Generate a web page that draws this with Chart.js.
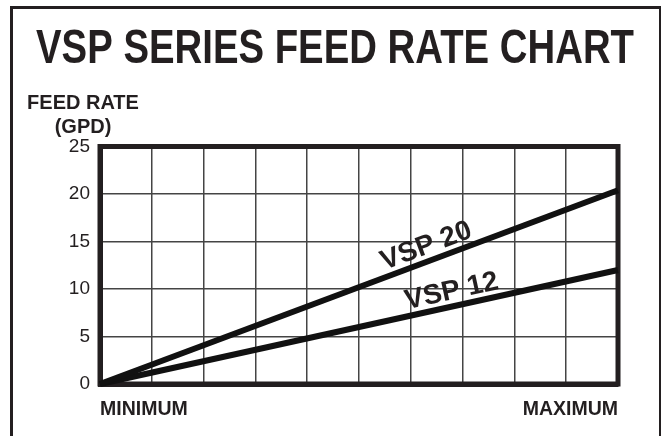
<!DOCTYPE html>
<html>
<head>
<meta charset="utf-8">
<script src="https://cdn.jsdelivr.net/npm/chart.js@4"></script>
<style>
  html, body { margin: 0; padding: 0; background: #fff; }
  #wrap { position: relative; width: 661px; height: 436px; overflow: hidden; }
  #frame { position: absolute; left: 10px; top: 6px; width: 646px; height: 460px; border: 3px solid #231f20; border-bottom: none; }
  canvas { position: absolute; left: 0; top: 0; }
</style>
</head>
<body>
<div id="wrap">
  <div id="frame"></div>
  <canvas id="c" width="661" height="436"></canvas>
</div>
<script>
// ---- data ----
const xValues = [0, 10];
const vsp20 = [0, 20.4];
const vsp12 = [0, 12.0];
const seriesNames = ['VSP 20', 'VSP 12'];
const labelAtX = [6.4, 6.85];
const yTicks = [0, 5, 10, 15, 20, 25];
const xEndLabels = ['MINIMUM', 'MAXIMUM'];
const chartTitle = 'VSP SERIES FEED RATE CHART';
const yTitle = ['FEED RATE', '(GPD)'];

const INK = '#231f20';
const FONT = "'Liberation Sans', Arial, Helvetica, sans-serif";

const decor = {
  id: 'decor',
  beforeDatasetsDraw(chart) {
    const { ctx, chartArea: a } = chart;
    ctx.save();
    ctx.strokeStyle = INK;
    ctx.lineWidth = 5;
    ctx.strokeRect(a.left, a.top, a.right - a.left, a.bottom - a.top);
    ctx.restore();
  },
  afterDraw(chart) {
    const { ctx, chartArea: a, scales } = chart;
    ctx.save();
    ctx.fillStyle = INK;
    // condensed-looking title, centred over the page
    ctx.font = 'bold 49px ' + FONT;
    ctx.textAlign = 'center';
    ctx.textBaseline = 'alphabetic';
    const tw = ctx.measureText(chartTitle).width;
    ctx.save();
    ctx.translate(335, 63);
    ctx.scale(598 / tw, 1);
    ctx.fillText(chartTitle, 0, 0);
    ctx.restore();

    ctx.textAlign = 'center';
    ctx.textBaseline = 'middle';
    ctx.font = 'bold 20px ' + FONT;
    ctx.fillText(yTitle[0], a.left - 17, a.top - 43);
    ctx.fillText(yTitle[1], a.left - 17, a.top - 19);
    const sets = [vsp20, vsp12];
    sets.forEach((vals, i) => {
      const xs = scales.x, ys = scales.y;
      const x0 = xs.getPixelForValue(xValues[0]), y0 = ys.getPixelForValue(vals[0]);
      const x1 = xs.getPixelForValue(xValues[1]), y1 = ys.getPixelForValue(vals[1]);
      const ang = Math.atan2(y1 - y0, x1 - x0);
      const lx = labelAtX[i];
      const ly = vals[0] + (vals[1] - vals[0]) * (lx - xValues[0]) / (xValues[1] - xValues[0]);
      const px = xs.getPixelForValue(lx), py = ys.getPixelForValue(ly);
      ctx.save();
      ctx.translate(px, py);
      ctx.rotate(ang);
      ctx.font = 'bold 28px ' + FONT;
      ctx.textAlign = 'center';
      ctx.textBaseline = 'alphabetic';
      ctx.fillText(seriesNames[i], 0, -7);
      ctx.restore();
    });
    ctx.restore();
  }
};

new Chart(document.getElementById('c'), {
  type: 'line',
  data: {
    datasets: [
      { label: seriesNames[0], data: xValues.map((x, i) => ({ x, y: vsp20[i] })) },
      { label: seriesNames[1], data: xValues.map((x, i) => ({ x, y: vsp12[i] })) }
    ]
  },
  options: {
    responsive: false,
    animation: false,
    events: [],
    layout: { padding: { left: 52, right: 43, top: 146.5, bottom: 0 } },
    elements: {
      line: { borderColor: '#111', borderWidth: 6, borderCapStyle: 'butt', tension: 0 },
      point: { radius: 0 }
    },
    datasets: { line: { clip: false } },
    plugins: {
      legend: { display: false },
      tooltip: { enabled: false },
      title: { display: false }
    },
    scales: {
      x: {
        type: 'linear',
        min: 0, max: 10,
        afterFit(s) { s.height = 52; },
        grid: { color: '#444', lineWidth: 1.5, drawTicks: false },
        border: { display: true, color: INK, width: 5 },
        ticks: {
          stepSize: 1,
          autoSkip: false,
          maxRotation: 0,
          align: 'inner',
          padding: 14,
          color: INK,
          font: { family: FONT, size: 19.5, weight: 'bold' },
          callback: (v) => v === 0 ? xEndLabels[0] : (v === 10 ? xEndLabels[1] : '')
        }
      },
      y: {
        type: 'linear',
        min: 0, max: 25,
        afterFit(s) { s.width = 48; },
        afterBuildTicks(s) { s.ticks = yTicks.map(v => ({ value: v })); },
        grid: { color: '#444', lineWidth: 1.5, drawTicks: false },
        border: { display: true, color: INK, width: 5 },
        ticks: {
          padding: 10,
          color: INK,
          font: { family: FONT, size: 19 }
        }
      }
    }
  },
  plugins: [decor]
});
</script>
</body>
</html>
